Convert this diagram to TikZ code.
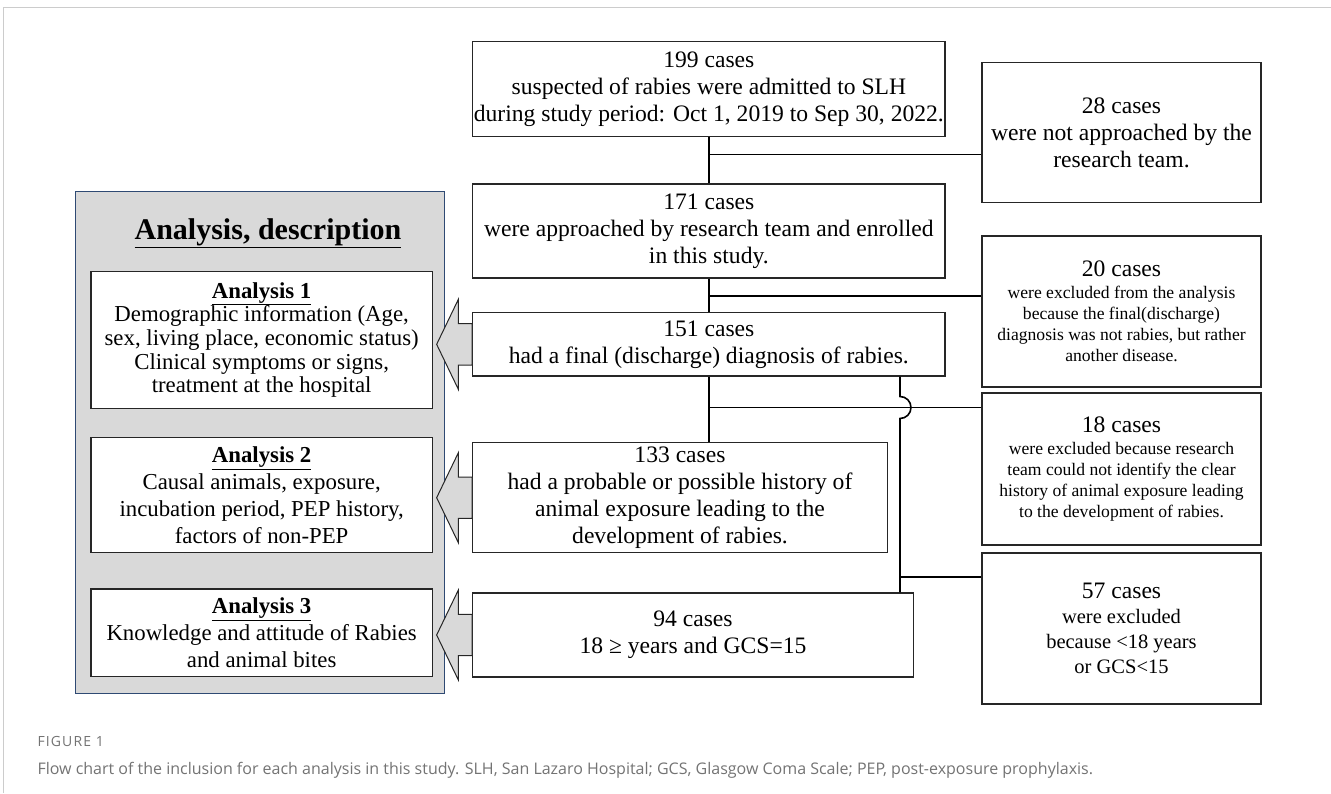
\documentclass[tikz,border=0pt]{standalone}
\usepackage{fontspec}
\setmainfont{Liberation Serif}
\newfontfamily\capfont{Open Sans}
\usetikzlibrary{calc}

\definecolor{panelgray}{HTML}{D9D9D9}
\definecolor{panelblue}{HTML}{2F4A73}

\begin{document}
\begin{tikzpicture}[x=1pt,y=-1pt]

      \useasboundingbox (0,0) rectangle (1331,793);
      \draw[line width=1.2pt,black!20] (3.3,793) -- (3.3,7.5) -- (1331,7.5);

      % left panel
      \node[draw=panelblue,fill=panelgray,line width=0.8pt,inner sep=0,
            minimum width=368.6pt,minimum height=501.3pt] (panel) at (260,442.35) {};
      \node (title) at (268,233) {\fontsize{30}{34}\selectfont\bfseries\underline{Analysis, description}};

      \begin{scope}[every node/.style={draw=black!85,fill=white,line width=1.2pt,inner sep=0,
                    align=center,minimum width=341.3pt,font=\fontsize{22.8}{27}\selectfont}]
        \node[minimum height=136.6pt,font=\fontsize{22.8}{23.7}\selectfont] (a1) at (261.65,340)
          {\textbf{\underline{Analysis 1}}\\Demographic information (Age,\\sex, living place, economic status)\\Clinical symptoms or signs,\\treatment at the hospital};
        \node[minimum height=115pt] (a2) at (261.65,495.2)
          {\textbf{\underline{Analysis 2}}\\Causal animals, exposure,\\incubation period, PEP history,\\factors of non-PEP};
        \node[minimum height=87.7pt] (a3) at (261.65,632.85)
          {\textbf{\underline{Analysis 3}}\\Knowledge and attitude of Rabies\\and animal bites};
      \end{scope}

      % flow boxes
      \begin{scope}[every node/.style={draw=black!85,fill=white,line width=1.3pt,inner sep=0,
                    align=center,font=\fontsize{23.6}{27}\selectfont}]
        \node[minimum width=472.3pt,minimum height=95pt] (n199) at (708.85,89.2)
          {199 cases\\suspected of rabies were admitted to SLH\\during study period: Oct 1, 2019 to Sep 30, 2022.};
        \node[minimum width=472.3pt,minimum height=94pt] (n171) at (708.85,231)
          {171 cases\\were approached by research team and enrolled\\in this study.};
        \node[minimum width=472.3pt,minimum height=63.3pt] (n151) at (708.85,344.35)
          {151 cases\\had a final (discharge) diagnosis of rabies.};
        \node[minimum width=414.6pt,minimum height=110pt] (n133) at (680,497.7)
          {133 cases\\had a probable or possible history of\\animal exposure leading to the\\development of rabies.};
        \node[minimum width=440.6pt,minimum height=84pt] (n94) at (693,635)
          {94 cases\\18 ≥ years and GCS=15};
      \end{scope}

      % excluded boxes
      \begin{scope}[every node/.style={draw=black!85,fill=white,line width=1.3pt,inner sep=0,
                    align=center,minimum width=279pt,font=\fontsize{17.6}{21}\selectfont}]
        \node[minimum height=140pt,font=\fontsize{23.6}{27}\selectfont] (n28) at (1121.5,132.7)
          {28 cases\\were not approached by the\\research team.};
        \node[minimum height=151pt] (n20) at (1121.5,311.5)
          {{\fontsize{23.6}{27}\selectfont 20 cases}\\[1pt]were excluded from the analysis\\because the final(discharge)\\diagnosis was not rabies, but rather\\another disease.};
        \node[minimum height=152pt] (n18) at (1121.5,469)
          {{\fontsize{23.6}{27}\selectfont 18 cases}\\[1pt]were excluded because research\\team could not identify the clear\\history of animal exposure leading\\to the development of rabies.};
        \node[minimum height=151pt,font=\fontsize{20.5}{25}\selectfont] (n57) at (1121.5,628.5)
          {{\fontsize{23.6}{27}\selectfont 57 cases}\\were excluded\\because <18 years\\or GCS<15};
      \end{scope}

      % block arrows to the analyses
      \foreach \b in {n151,n133,n94}
        \filldraw[fill=panelgray,draw=black!85,line width=1pt]
          ($(\b.west)+(0,-20.7)$) -- ++(-13.7,0) -- ++(0,-24.3) -- ++(-21.7,45)
          -- ++(21.7,45) -- ++(0,-24.3) -- ++(13.7,0) -- cycle;

      \coordinate (b1) at (708.85,154.3);
      \coordinate (b2) at (708.85,296);
      \coordinate (hop) at (900,407.5);
      \coordinate (b4) at (900,576.7);

      \begin{scope}[every edge/.style={draw,line width=1.6pt}]
        \path (n199.south) edge (n171.north)
              (n171.south) edge (n151.north)
              (n151.south) edge (n151.south |- n133.north)
              (b1) edge (b1 -| n28.west)
              (b2) edge (b2 -| n20.west)
              (n151.south |- hop) edge (hop -| n18.west)
              (b4) edge (b4 -| n57.west);
      \end{scope}
      \draw[line width=1.6pt] (n151.south -| hop) -- ([yshift=11pt]hop)
        arc[start angle=90,end angle=-90,radius=11pt] -- (n94.north -| hop);

      % caption
      \node[anchor=west,text=black!55,font=\capfont\fontsize{14}{16}\selectfont\addfontfeatures{LetterSpace=8}] (figno) at (34,741) {FIGURE 1};
      \node[anchor=west,text=black!55,font=\capfont\fontsize{16}{19}\selectfont] (caption) at (34,770)
        {Flow chart of the inclusion for each analysis in this study. SLH, San Lazaro Hospital; GCS, Glasgow Coma Scale; PEP, post-exposure prophylaxis.};

    \end{tikzpicture}
\end{document}
